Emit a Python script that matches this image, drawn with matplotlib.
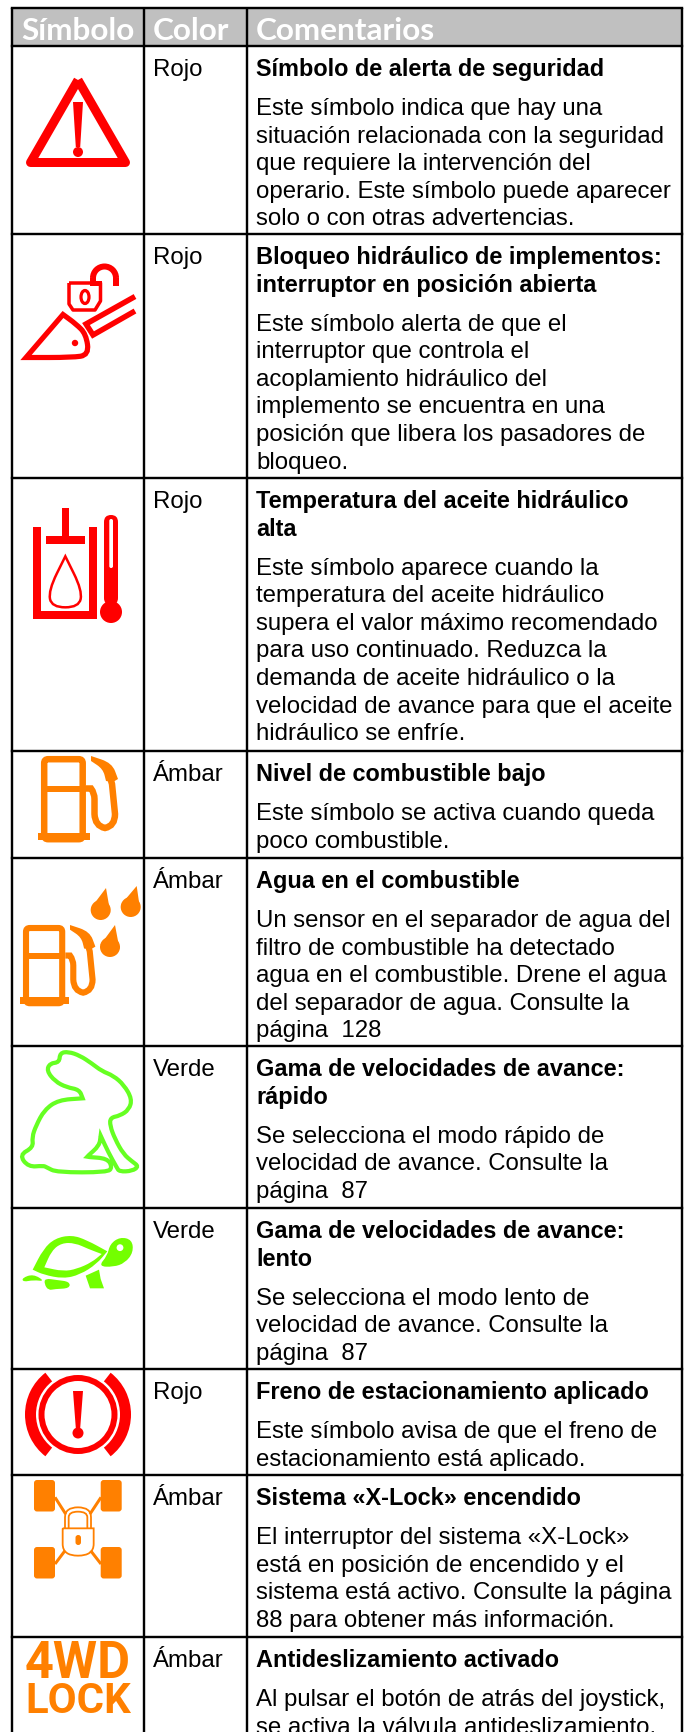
import matplotlib
matplotlib.use("Agg")
import matplotlib.pyplot as plt
from matplotlib.path import Path
from matplotlib.patches import PathPatch, Polygon, Circle, Wedge, Rectangle, FancyBboxPatch, Ellipse, Arc

RED = "#ff0000"
ORANGE = "#ff8000"
GREEN = "#66ff22"
LIME = "#73ff00"

headers = ["Símbolo", "Color", "Comentarios"]
color_names = ["Rojo", "Rojo", "Rojo", "Ámbar", "Ámbar", "Verde", "Verde", "Rojo", "Ámbar", "Ámbar"]
titles = [
    ["Símbolo de alerta de seguridad"],
    ["Bloqueo hidráulico de implementos:", "interruptor en posición abierta"],
    ["Temperatura del aceite hidráulico", "alta"],
    ["Nivel de combustible bajo"],
    ["Agua en el combustible"],
    ["Gama de velocidades de avance:", "rápido"],
    ["Gama de velocidades de avance:", "lento"],
    ["Freno de estacionamiento aplicado"],
    ["Sistema «X-Lock» encendido"],
    ["Antideslizamiento activado"],
]
bodies = [
    ["Este símbolo indica que hay una", "situación relacionada con la seguridad",
     "que requiere la intervención del", "operario. Este símbolo puede aparecer",
     "solo o con otras advertencias."],
    ["Este símbolo alerta de que el", "interruptor que controla el",
     "acoplamiento hidráulico del", "implemento se encuentra en una",
     "posición que libera los pasadores de", "bloqueo."],
    ["Este símbolo aparece cuando la", "temperatura del aceite hidráulico",
     "supera el valor máximo recomendado", "para uso continuado. Reduzca la",
     "demanda de aceite hidráulico o la", "velocidad de avance para que el aceite",
     "hidráulico se enfríe."],
    ["Este símbolo se activa cuando queda", "poco combustible."],
    ["Un sensor en el separador de agua del", "filtro de combustible ha detectado",
     "agua en el combustible. Drene el agua", "del separador de agua. Consulte la",
     "página  128"],
    ["Se selecciona el modo rápido de", "velocidad de avance. Consulte la", "página  87"],
    ["Se selecciona el modo lento de", "velocidad de avance. Consulte la", "página  87"],
    ["Este símbolo avisa de que el freno de", "estacionamiento está aplicado."],
    ["El interruptor del sistema «X-Lock»", "está en posición de encendido y el",
     "sistema está activo. Consulte la página", "88 para obtener más información."],
    ["Al pulsar el botón de atrás del joystick,", "se activa la válvula antideslizamiento."],
]
row_edges = [47, 235, 479, 752, 859, 1047, 1209, 1370, 1476, 1638]
col_edges = [12, 144, 247, 682]
table_top = 9


def px(v):
    return v * 0.72


def z(points, y0, x0=0):
    return [(x0 + a / 3, y0 + b / 3) for a, b in points]


def smooth(points):
    # closed curve through the midpoints, a repeated point stays a corner
    n = len(points)
    mids = [((points[i][0] + points[(i + 1) % n][0]) / 2, (points[i][1] + points[(i + 1) % n][1]) / 2) for i in range(n)]
    verts = [mids[-1]]
    codes = [Path.MOVETO]
    for i in range(n):
        verts += [points[i], mids[i]]
        codes += [Path.CURVE3, Path.CURVE3]
    return Path(verts, codes)


def stroke(ax, points, color, lw, close=False, cap="butt", join="miter"):
    if close:
        points = points + [points[0]]
    ax.add_patch(PathPatch(Path(points), fill=False, ec=color, lw=px(lw), capstyle=cap, joinstyle=join))


def bang(ax, cx, top, neck, half, dot_y, dot_r):
    ax.add_patch(Polygon([(cx - half, top), (cx + half, top), (cx + 2.2, neck), (cx - 2.2, neck)], fc=RED, ec="none"))
    ax.add_patch(Circle((cx, dot_y), dot_r, fc=RED, ec="none"))


def teardrop(ax, tip, center, r, color):
    ax.add_patch(Circle(center, r, fc=color, ec="none"))
    dx = center[0] - tip[0]
    dy = center[1] - tip[1]
    d = (dx * dx + dy * dy) ** 0.5
    nx, ny = -dy / d, dx / d
    ax.add_patch(Polygon([tip, (center[0] + nx * r * 0.98, center[1] + ny * r * 0.98),
                          (center[0] - nx * r * 0.98, center[1] - ny * r * 0.98)], fc=color, ec="none"))


def fuel_pump(ax, ox, oy, s):
    def t(pts):
        return [(ox + (a - 41) * s, oy + (b - 757) * s) for a, b in pts]

    lw = 6.5 * s
    body = FancyBboxPatch((ox + 3.2 * s, oy + 3.2 * s), 38.5 * s, 80 * s, boxstyle="round,pad=0,rounding_size=%.1f" % (4 * s),
                          fill=False, ec=ORANGE, lw=px(lw))
    ax.add_patch(body)
    ax.add_patch(Polygon(t([(41, 787), (86, 787), (86, 793), (41, 793)]), fc=ORANGE, ec="none"))
    ax.add_patch(Polygon(t([(38, 834), (90, 834), (90, 841), (38, 841)]), fc=ORANGE, ec="none"))
    hose = t([(86, 789.5), (91, 789.5), (94.5, 794), (94.5, 800), (94.5, 815), (95, 827), (105, 829), (115, 827), (115, 815), (112, 785), (109, 775)])
    codes = [Path.MOVETO, Path.LINETO, Path.CURVE3, Path.CURVE3, Path.LINETO, Path.CURVE3, Path.CURVE3, Path.CURVE3, Path.CURVE3, Path.LINETO, Path.LINETO]
    ax.add_patch(PathPatch(Path(hose, codes), fill=False, ec=ORANGE, lw=px(lw)))
    nozzle = t([(91, 757), (91, 757), (112, 764), (118, 780), (118, 780), (113, 783), (113, 783), (106, 782), (106, 782), (103, 770), (91, 762), (91, 762)])
    ax.add_patch(PathPatch(smooth(nozzle), fc=ORANGE, ec="none"))


fig = plt.figure(figsize=(6.86, 17.33), dpi=100)
ax = fig.add_axes([0, 0, 1, 1])
ax.set_xlim(0, 686)
ax.set_ylim(1733, 0)
ax.axis("off")

# header band and grid
ax.add_patch(Rectangle((col_edges[0], table_top), col_edges[-1] - col_edges[0], row_edges[0] - table_top, fc="#c0c0c0", ec="none"))
for i, h in enumerate(headers):
    hx = 21 if i == 0 else col_edges[i] + 9
    ax.text(hx, 40, h, family="Lato", weight="bold", fontsize=px(31.5), color="white", va="baseline")
for x in col_edges:
    ax.plot([x, x], [table_top, 1733], color="black", lw=px(2.4), solid_capstyle="butt")
for y in [table_top] + row_edges:
    ax.plot([col_edges[0], col_edges[-1]], [y, y], color="black", lw=px(2.4), solid_capstyle="projecting")

# text
line_h = 27.6
for top, cname, tlines, blines in zip(row_edges, color_names, titles, bodies):
    base = top + 29
    ax.text(153, base, cname, family="Liberation Sans", fontsize=px(24), va="baseline")
    for line in tlines:
        ax.text(256, base, line, family="Liberation Sans", weight="bold", fontsize=px(23.5), va="baseline")
        base += line_h
    base += 39 - line_h
    for line in blines:
        ax.text(256, base, line, family="Liberation Sans", fontsize=px(24), va="baseline")
        base += line_h

# warning triangle
stroke(ax, [(78, 81), (30.5, 163.5), (125.5, 163.5)], RED, 9, close=True, join="round")
bang(ax, 78, 103, 148, 5, 153, 5)

# implement lock
stroke(ax, [(69, 284), (100.5, 284), (100.5, 302), (95, 311), (73, 311), (69, 305)], RED, 3.5, close=True, join="round")
ax.add_patch(Polygon([(90, 282), (102, 282), (102, 287), (90, 287)], fc=RED, ec="none"))
ax.add_patch(Arc((104.5, 279), 23, 23, theta1=180, theta2=360, ec=RED, lw=px(6)))
stroke(ax, [(93, 279), (93, 283)], RED, 6)
stroke(ax, [(116, 279), (116, 287)], RED, 6)
ax.add_patch(Ellipse((85, 298), 8, 13, fc="white", ec=RED, lw=px(3.2)))
bucket = [(63, 315.5), (63, 315.5), (26, 358.5), (26, 358.5), (72, 358.5), (89, 356), (86, 335), (76, 325)]
ax.add_patch(PathPatch(smooth(bucket), fill=False, ec=RED, lw=px(5.2), joinstyle="miter"))
ax.add_patch(Circle((75, 344), 3.2, fc=RED, ec="none"))
stroke(ax, [(135, 297.5), (86, 325), (93, 336), (135, 312)], RED, 5.5)

# hydraulic temperature
ax.add_patch(Rectangle((62, 509), 7, 30, fc=RED, ec="none"))
ax.add_patch(Rectangle((46, 537), 39, 8, fc=RED, ec="none"))
stroke(ax, [(37, 528), (37, 616), (93, 616), (93, 528)], RED, 8)
drop_pts = z([(196, 982), (196, 982), (145, 1085), (155, 1135), (237, 1135), (247, 1085)], 230)
ax.add_patch(PathPatch(smooth(drop_pts), fill=False, ec=RED, lw=px(2.5), joinstyle="miter"))
ax.add_patch(FancyBboxPatch((104, 516), 14, 90, boxstyle="round,pad=0,rounding_size=7", fc=RED, ec="none"))
ax.add_patch(Circle((111, 613), 11, fc=RED, ec="none"))
ax.add_patch(FancyBboxPatch((109.3, 520), 3.7, 49, boxstyle="round,pad=0,rounding_size=1.8", fc="white", ec="none"))

# fuel symbols
fuel_pump(ax, 41, 757, 1.0)
fuel_pump(ax, 23, 926, 0.94)
teardrop(ax, (106, 889), (100.7, 911), 10, ORANGE)
teardrop(ax, (136.7, 887), (130.7, 908), 10, ORANGE)
teardrop(ax, (115, 926), (110, 948), 10, ORANGE)

# rabbit
rabbit = z([(180, 102), (205, 98), (240, 110), (275, 133), (305, 156), (340, 170), (372, 198), (396, 240), (387, 272),
            (360, 290), (331, 296), (330, 320), (345, 360), (370, 405), (397, 428), (416, 442), (397, 456), (358, 458),
            (350, 445), (325, 400), (302, 350), (302, 350), (298, 380), (262, 412), (262, 414), (322, 418), (337, 445), (322, 460),
            (170, 460), (140, 445), (130, 440), (85, 444), (58, 408), (100, 385), (96, 355), (108, 320), (133, 273),
            (175, 243), (248, 238), (248, 238), (238, 212), (200, 205), (165, 187), (140, 155), (150, 133), (178, 130)], 1020)
ax.add_patch(PathPatch(smooth(rabbit), fill=False, ec=GREEN, lw=px(4.2)))

# turtle
shell = z([(98, 752), (98, 752), (130, 690), (165, 658), (215, 648), (260, 663), (322, 697), (322, 697), (290, 735), (240, 767), (190, 779), (130, 767)], 1020)
hole = z([(133, 745), (133, 745), (155, 695), (185, 672), (225, 672), (265, 690), (305, 705), (305, 705), (275, 730), (230, 750), (190, 757)], 1020)
head = z([(295, 742), (322, 710), (330, 675), (360, 654), (396, 662), (400, 700), (375, 732), (340, 744)], 1020)
tail = z([(66, 777), (100, 765), (135, 787), (100, 783), (70, 789)], 1020)
back_leg = z([(135, 778), (170, 783), (209, 788), (209, 808), (165, 810), (145, 814), (133, 795)], 1020)
front_leg = z([(257, 770), (297, 752), (302, 780), (312, 808), (270, 808)], 1020)
ax.add_patch(PathPatch(smooth(shell), fc=LIME, ec="none"))
ax.add_patch(PathPatch(smooth(hole), fc="white", ec="none"))
ax.add_patch(PathPatch(smooth(head), fc=LIME, ec="none"))
ax.add_patch(Circle((120, 1020 + 686 / 3), 3.4, fc="white", ec="none"))
for part in [tail, back_leg]:
    ax.add_patch(PathPatch(smooth(part), fc=LIME, ec="none"))
ax.add_patch(Polygon(front_leg, fc=LIME, ec="none"))

# parking brake
ax.add_patch(Circle((78, 1415.5), 36.5, fill=False, ec=RED, lw=px(6)))
ax.add_patch(Wedge((78, 1415.5), 53, 128, 232, width=11, fc=RED, ec="none"))
ax.add_patch(Wedge((78, 1415.5), 53, -52, 52, width=11, fc=RED, ec="none"))
bang(ax, 78, 1392, 1429, 5, 1434, 5.5)

# x-lock
for wx, wy in [(34, 1481), (100.7, 1481), (34, 1548), (100.7, 1548)]:
    ax.add_patch(FancyBboxPatch((wx, wy), 21, 31.5, boxstyle="round,pad=0,rounding_size=3", fc=ORANGE, ec="none"))
for seg in [[(165, 325), (197, 375)], [(303, 325), (270, 375)], [(165, 525), (195, 485)], [(303, 525), (272, 485)]]:
    stroke(ax, z(seg, 1390), ORANGE, 3)
lock_body = [(188, 418), (281, 418), (281, 465), (262, 495), (234, 500), (206, 495), (188, 465)]
ax.add_patch(PathPatch(Path(z([lock_body[0], lock_body[1], lock_body[2], (281, 500), lock_body[4], (188, 500), lock_body[6], lock_body[0]], 1390),
                            [Path.MOVETO, Path.LINETO, Path.LINETO, Path.CURVE3, Path.CURVE3, Path.CURVE3, Path.CURVE3, Path.LINETO]),
                       fill=False, ec=ORANGE, lw=px(1.8)))
for half, top in [(39, 355), (28, 368)]:
    shackle = z([(234 - half, 418), (234 - half, 385), (234 - half, top), (234, top), (234 + half, top), (234 + half, 385), (234 + half, 418)], 1390)
    ax.add_patch(PathPatch(Path(shackle, [Path.MOVETO, Path.LINETO, Path.CURVE3, Path.CURVE3, Path.CURVE3, Path.CURVE3, Path.LINETO]),
                           fill=False, ec=ORANGE, lw=px(1.8)))
ax.add_patch(FancyBboxPatch((75.5, 1536), 5.5, 10, boxstyle="round,pad=0,rounding_size=2.7", fc=ORANGE, ec="none"))

# 4wd lock
ax.text(25, 1678, "4WD", family="Roboto", weight="bold", fontsize=px(50.5), color=ORANGE, va="baseline")
ax.text(25, 1713, "LOCK", family="Roboto", weight="bold", fontsize=px(42), color=ORANGE, va="baseline")

fig.savefig("out.png", dpi=100)
